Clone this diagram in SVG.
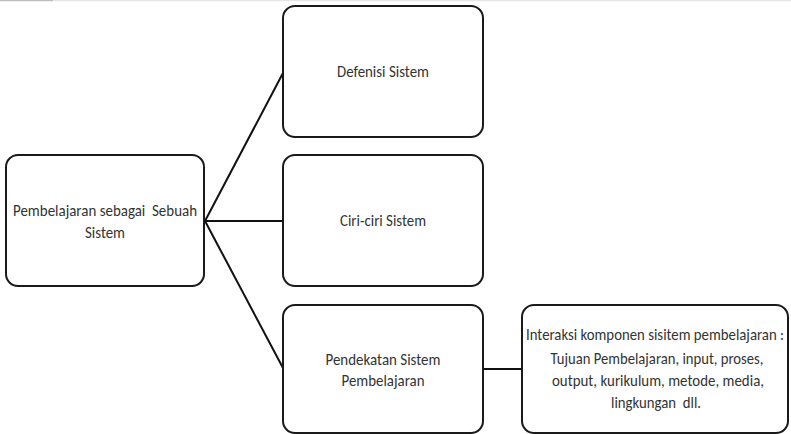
<svg xmlns="http://www.w3.org/2000/svg" width="791" height="434" viewBox="0 0 791 434">
  <style>
    .box { fill: #ffffff; stroke: #1a1a1a; stroke-width: 2; }
    .link { stroke: #111111; stroke-width: 2; fill: none; }
    .label { font-family: Carlito, "Open Sans", "Liberation Sans", Arial, sans-serif; font-size: 17px; fill: #333333; text-anchor: middle; }
  </style>
  <rect x="0" y="0" width="791" height="434" fill="#ffffff"/>
  <!-- thin top rule -->
  <rect x="0" y="0" width="791" height="1.2" fill="#e6e6e6"/>
  <rect x="0" y="0" width="53" height="1.2" fill="#bdbdbd"/>

  <g id="connectors">
    <line class="link" x1="205" y1="221" x2="283" y2="73"/>
    <line class="link" x1="205" y1="221" x2="283" y2="221"/>
    <line class="link" x1="205" y1="221" x2="283" y2="368"/>
    <line class="link" x1="483" y1="369" x2="522" y2="369"/>
  </g>

  <g id="pembelajaran-sistem">
    <rect class="box" x="6" y="155" width="198" height="131" rx="12"/>
    <text class="label" x="105" y="216" textLength="184" lengthAdjust="spacingAndGlyphs" xml:space="preserve">Pembelajaran sebagai  Sebuah</text>
    <text class="label" x="105" y="238" textLength="40" lengthAdjust="spacingAndGlyphs">Sistem</text>
  </g>

  <g id="defenisi-sistem">
    <rect class="box" x="283" y="6" width="200" height="131" rx="12"/>
    <text class="label" x="383" y="77" textLength="92" lengthAdjust="spacingAndGlyphs">Defenisi Sistem</text>
  </g>

  <g id="ciri-ciri-sistem">
    <rect class="box" x="283" y="155" width="200" height="131" rx="12"/>
    <text class="label" x="383" y="226" textLength="86" lengthAdjust="spacingAndGlyphs">Ciri-ciri Sistem</text>
  </g>

  <g id="pendekatan-sistem">
    <rect class="box" x="283" y="305" width="200" height="128" rx="12"/>
    <text class="label" x="383" y="365" textLength="115" lengthAdjust="spacingAndGlyphs">Pendekatan Sistem</text>
    <text class="label" x="383" y="386" textLength="83" lengthAdjust="spacingAndGlyphs">Pembelajaran</text>
  </g>

  <g id="interaksi-komponen">
    <rect class="box" x="522" y="305" width="266" height="128" rx="12"/>
    <text class="label" x="655" y="340" textLength="258" lengthAdjust="spacingAndGlyphs">Interaksi komponen sisitem pembelajaran :</text>
    <text class="label" x="657" y="364" textLength="213" lengthAdjust="spacingAndGlyphs">Tujuan Pembelajaran, input, proses,</text>
    <text class="label" x="658" y="386" textLength="212" lengthAdjust="spacingAndGlyphs">output, kurikulum, metode, media,</text>
    <text class="label" x="656" y="408" textLength="90" lengthAdjust="spacingAndGlyphs" xml:space="preserve">lingkungan  dll.</text>
  </g>
</svg>
